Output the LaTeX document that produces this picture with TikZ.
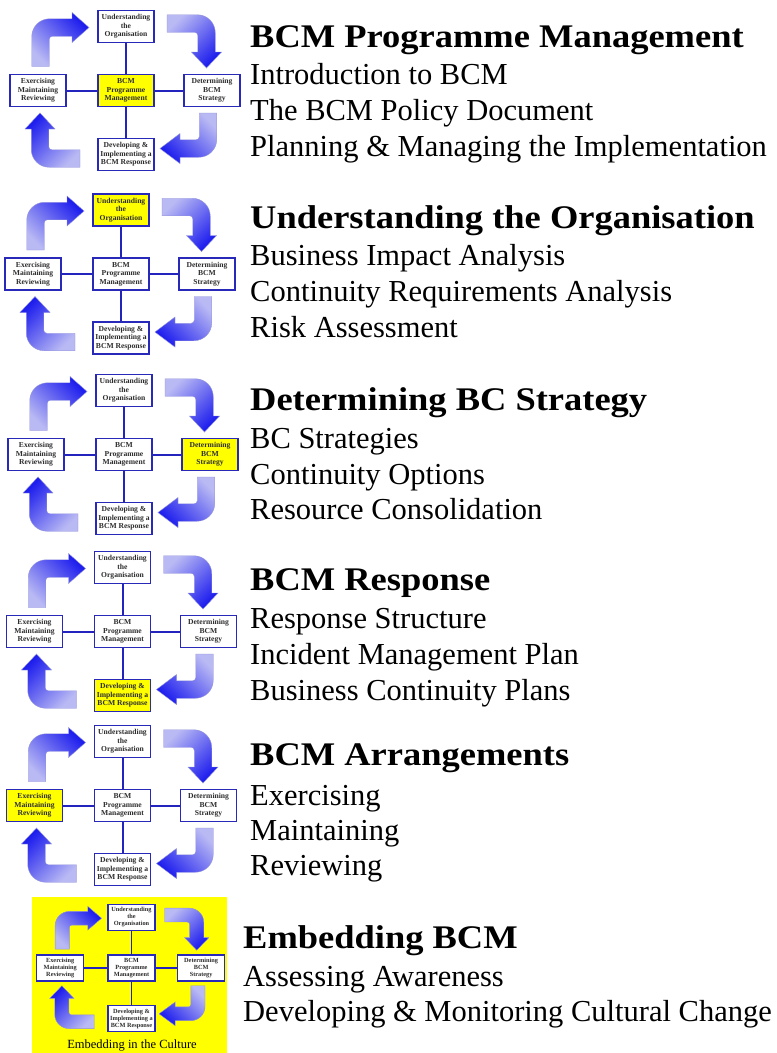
\documentclass[tikz,border=0pt]{standalone}
\usepackage{fontspec}
\setmainfont{Liberation Serif}
\newfontfamily\titlefont{Liberation Serif}[FakeStretch=1.105]
\definecolor{boxblue}{RGB}{40,40,185}
\definecolor{linkblue}{RGB}{35,35,190}
\definecolor{arrowlight}{RGB}{185,185,244}
\definecolor{arrowdark}{RGB}{28,28,238}
\definecolor{arrowedge}{RGB}{145,145,218}
\definecolor{boxtext}{RGB}{45,45,45}
\definecolor{hl}{RGB}{255,255,0}
\newcommand\bentarrow[4]{%
  \path[draw=arrowedge, line width=0.4pt, #4]
    (-8.75,#1) -- (-8.75,9.25) .. controls (-8.75,-0.7) and (-0.8,-8.75) .. (9.25,-8.75)
    -- (#2,-8.75) -- (#2,-15) -- (#3,0) -- (#2,15) -- (#2,8.75) -- (11.75,8.75)
    .. controls (10.1,8.75) and (8.75,10.1) .. (8.75,11.75) -- (8.75,#1) -- cycle;}
\tikzset{
  cbox/.style={draw=boxblue, line width=1.4pt, fill=white, minimum width=56pt, minimum height=32pt,
    inner sep=0pt, align=center, text=boxtext, font=\fontsize{7.6}{8.4}\selectfont\bfseries},
  link/.style={draw=linkblue, line width=2pt},
  shTL/.style={top color=arrowdark, bottom color=arrowlight, shading angle=-45},
  shTR/.style={top color=arrowlight, bottom color=arrowdark, shading angle=45},
  shBR/.style={top color=arrowlight, bottom color=arrowdark, shading angle=-45},
  shBL/.style={top color=arrowdark, bottom color=arrowlight, shading angle=45},
  titletext/.style={anchor=base west, inner sep=0pt, font=\titlefont\bfseries\fontsize{33}{33}\selectfont},
  itemtext/.style={anchor=base west, inner sep=0pt, font=\fontsize{30.5}{30.5}\selectfont},
  pics/cycle/.style n args={5}{code={
    \bentarrow{39}{31.5}{48.5}{shift={(-85.5,-63)}, shTL}
    \bentarrow{39.5}{28.5}{44.5}{shift={(80.5,-67)}, rotate=-90, shTR}
    \bentarrow{35.5}{28}{48}{shift={(82,58)}, rotate=180, shBR}
    \bentarrow{40}{29.5}{45.5}{shift={(-86,68)}, rotate=90, shBL}
    \node[cbox, fill=#1] (-c) at (0,0) {BCM\\Programme\\Management};
    \node[cbox, fill=#2] (-u) at (0,-64) {Understanding\\the\\Organisation};
    \node[cbox, fill=#3] (-r) at (86,0) {Determining\\BCM\\Strategy};
    \node[cbox, fill=#4] (-d) at (0,64) {Developing \&\\Implementing a\\BCM Response};
    \node[cbox, fill=#5] (-l) at (-88,0) {Exercising\\Maintaining\\Reviewing};
    \draw[link] (-c) -- (-u);
    \draw[link] (-c) -- (-r);
    \draw[link] (-c) -- (-d);
    \draw[link] (-c) -- (-l);
  }}
}
\begin{document}
\begin{tikzpicture}[x=1pt, y=-1pt]
\useasboundingbox (0,0) rectangle (777,1053);
\fill[white] (0,0) rectangle (777,1053);

% Panel 1
\pic (p1) at (126,90.5) {cycle={hl}{white}{white}{white}{white}};
\node[titletext] (t1) at (250,47) {BCM Programme Management};
\node[itemtext] (t1a) at (250,84) {Introduction to BCM};
\node[itemtext] (t1b) at (250,120) {The BCM Policy Document};
\node[itemtext] (t1c) at (250,156) {Planning \& Managing the Implementation};

% Panel 2
\pic (p2) at (121,274) {cycle={white}{hl}{white}{white}{white}};
\node[titletext] (t2) at (250,228) {Understanding the Organisation};
\node[itemtext] (t2a) at (250,265) {Business Impact Analysis};
\node[itemtext] (t2b) at (250,301) {Continuity Requirements Analysis};
\node[itemtext] (t2c) at (250,337) {Risk Assessment};

% Panel 3
\pic (p3) at (124,454.5) {cycle={white}{white}{hl}{white}{white}};
\node[titletext] (t3) at (250,410) {Determining BC Strategy};
\node[itemtext] (t3a) at (250,448) {BC Strategies};
\node[itemtext] (t3b) at (250,484) {Continuity Options};
\node[itemtext] (t3c) at (250,519) {Resource Consolidation};

% Panel 4
\pic (p4) at (122.5,631.5) {cycle={white}{white}{white}{hl}{white}};
\node[titletext] (t4) at (250,590) {BCM Response};
\node[itemtext] (t4a) at (250,628) {Response Structure};
\node[itemtext] (t4b) at (250,664) {Incident Management Plan};
\node[itemtext] (t4c) at (250,700) {Business Continuity Plans};

% Panel 5
\pic (p5) at (122.5,805.5) {cycle={white}{white}{white}{white}{hl}};
\node[titletext] (t5) at (250,765) {BCM Arrangements};
\node[itemtext] (t5a) at (250,805) {Exercising};
\node[itemtext] (t5b) at (250,840) {Maintaining};
\node[itemtext] (t5c) at (250,875) {Reviewing};

% Panel 6
\node[fill=hl, inner sep=0pt, minimum width=195pt, minimum height=160pt, anchor=north west] (bg6) at (32,897) {};
\pic[xscale=.81, yscale=.79, link/.append style={line width=1.6pt},
     cbox/.append style={minimum width=47pt, minimum height=26pt, line width=1.2pt, font=\fontsize{6.3}{7}\selectfont\bfseries}]
     (p6) at (131.5,968) {cycle={white}{white}{white}{white}{white}};
\node[anchor=base, inner sep=0pt, font=\fontsize{12.5}{12.5}\selectfont] (emb) at (132,1048) {Embedding in the Culture};
\node[titletext] (t6) at (243,948) {Embedding BCM};
\node[itemtext] (t6a) at (243,986) {Assessing Awareness};
\node[itemtext] (t6b) at (243,1021) {Developing \& Monitoring Cultural Change};
\end{tikzpicture}
\end{document}
